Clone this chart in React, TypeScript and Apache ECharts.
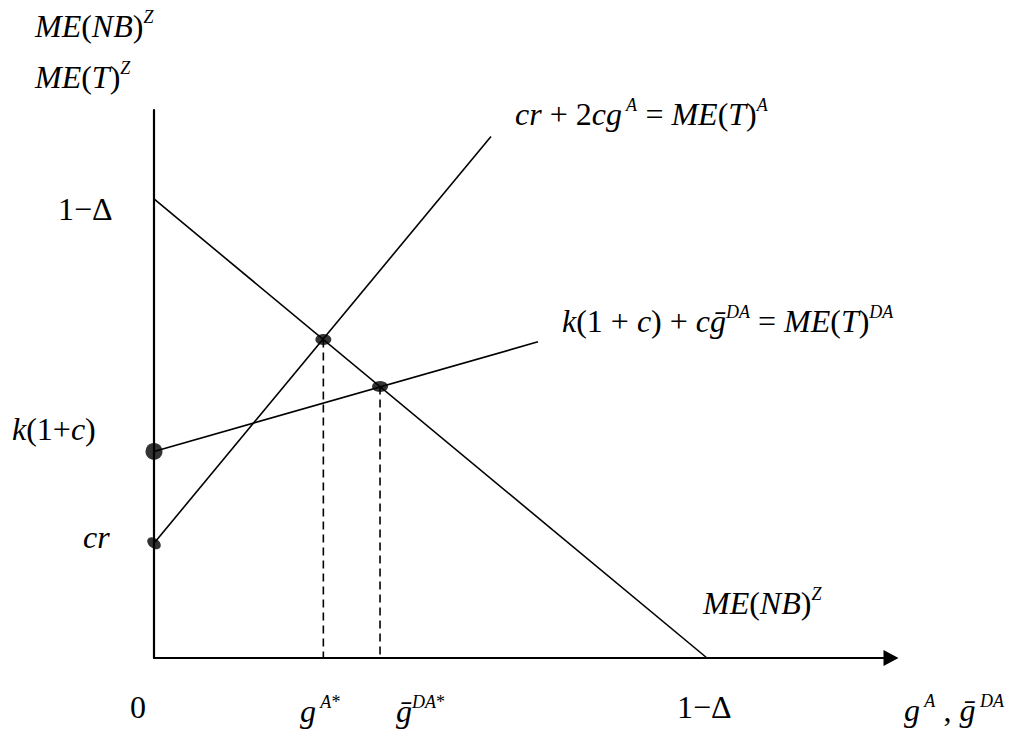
import React, { useEffect, useRef } from "react";
import * as echarts from "echarts";

// ---- data (in model units; 1 − Δ = 0.8) ----
const ONE_MINUS_DELTA = 0.8;
const CR = 0.2; // cr intercept
const K1C = 0.36; // k(1+c) intercept
const lineNB: number[][] = [[0, ONE_MINUS_DELTA], [ONE_MINUS_DELTA, 0]];
const lineA: number[][] = [[0, CR], [0.4875, 0.909]];
const lineDA: number[][] = [[0, K1C], [0.5555, 0.551]];
const eqA: number[] = [0.245, 0.555]; // g^A* equilibrium
const eqDA: number[] = [0.327, 0.473]; // gbar^DA* equilibrium
const dropA: number[][] = [eqA, [eqA[0], 0]];
const dropDA: number[][] = [eqDA, [eqDA[0], 0]];
const interceptDots: number[][] = [[0, K1C], [0, CR]];
const eqDots: number[][] = [eqA, eqDA];

// ---- label texts ----
const yTitle1 = "{i|ME}{n|(}{i|NB}{n|)}{s|Z}";
const yTitle2 = "{i|ME}{n|(}{i|T}{n|)}{s|Z}";
const yLabOneMinusDelta = "{n|1−Δ}";
const yLabK = "{i|k}{n|(1+}{i|c}{n|)}";
const yLabCr = "{i|cr}";
const eqALabel = "{i|cr}{n| + 2}{i|cg}{s| A}{n| = }{i|ME}{n|(}{i|T}{n|)}{s|A}";
const eqDALabel = "{i|k}{n|(1 + }{i|c}{n|) + }{i|c}{i|ḡ}{s|DA}{n| = }{i|ME}{n|(}{i|T}{n|)}{s|DA}";
const nbLabel = "{i|ME}{n|(}{i|NB}{n|)}{s|Z}";
const xLab0 = "{n|0}";
const xLabA = "{i|g}{s| A}{n2|*}";
const xLabDA = "{i|ḡ}{s|DA}{n2|*}";
const xLabOneMinusDelta = "{n|1−Δ}";
const xTitle = "{i|g}{s| A}{n| , }{i|ḡ}{s| DA}";

const F = "Liberation Serif";
const rich = {
  i: { fontFamily: F, fontSize: 32, fontStyle: "italic", lineHeight: 36, fill: "#000" },
  n: { fontFamily: F, fontSize: 32, lineHeight: 36, fill: "#000" },
  s: { fontFamily: F, fontSize: 18, fontStyle: "italic", lineHeight: 18, verticalAlign: "top", fill: "#000" },
  n2: { fontFamily: F, fontSize: 18, lineHeight: 18, verticalAlign: "top", fill: "#000" },
};

function txt(text: string, x: number, y: number) {
  return {
    type: "text",
    x,
    y,
    silent: true,
    style: {
      text,
      rich,
      fontFamily: F,
      fontSize: 32,
      align: "left",
      verticalAlign: "middle",
      fill: "#000",
    },
  };
}

export default function App() {
  const ref = useRef<HTMLDivElement>(null);
  useEffect(() => {
    if (!ref.current) return;
    const chart = echarts.init(ref.current, null, { renderer: "svg" });
    const solid = { color: "#000", width: 1.6 };
    const dashed = { color: "#000", width: 1.6, type: [8, 5] as number[] };
    const lineSeries = (data: number[][], ls: any) => ({
      type: "line",
      data,
      showSymbol: false,
      symbol: "none",
      silent: true,
      lineStyle: ls,
      z: 3,
    });
    chart.setOption({
      animation: false,
      backgroundColor: "#fff",
      textStyle: { fontFamily: F },
      grid: { left: 154, top: 110, width: 737, height: 548 },
      xAxis: {
        type: "value",
        min: 0,
        max: 1.0662,
        splitLine: { show: false },
        axisTick: { show: false },
        axisLabel: { show: false },
        axisLine: {
          show: true,
          onZero: false,
          lineStyle: { color: "#000", width: 2.2 },
          symbol: ["none", "triangle"],
          symbolSize: [16, 15],
        },
      },
      yAxis: {
        type: "value",
        min: 0,
        max: 0.955,
        splitLine: { show: false },
        axisTick: { show: false },
        axisLabel: { show: false },
        axisLine: { show: true, onZero: false, lineStyle: { color: "#000", width: 2.2 } },
      },
      series: [
        lineSeries(lineNB, solid),
        lineSeries(lineA, solid),
        lineSeries(lineDA, solid),
        lineSeries(dropA, dashed),
        lineSeries(dropDA, dashed),
        {
          type: "scatter",
          silent: true,
          z: 5,
          data: [
            { value: interceptDots[0], symbolSize: 17 },
            { value: interceptDots[1], symbolSize: [15, 10], symbolRotate: -35 },
          ],
          itemStyle: { color: "#000" },
        },
        {
          type: "scatter",
          silent: true,
          z: 5,
          symbolSize: [16, 11],
          data: eqDots,
          itemStyle: { color: "#000" },
        },
      ],
      graphic: [
        txt(yTitle1, 35, 26),
        txt(yTitle2, 35, 77),
        txt(yLabOneMinusDelta, 58, 209),
        txt(yLabK, 12, 429),
        txt(yLabCr, 83, 537),
        txt(eqALabel, 515, 114),
        txt(eqDALabel, 562, 321),
        txt(nbLabel, 703, 603),
        txt(xLab0, 130, 707),
        txt(xLabA, 300, 711),
        txt(xLabDA, 396, 711),
        txt(xLabOneMinusDelta, 677, 707),
        txt(xTitle, 904, 710),
      ],
    });
    return () => chart.dispose();
  }, []);
  return (
    <div
      ref={ref}
      style={{ position: "absolute", left: 0, top: 0, width: 1024, height: 736, background: "#fff" }}
    />
  );
}
